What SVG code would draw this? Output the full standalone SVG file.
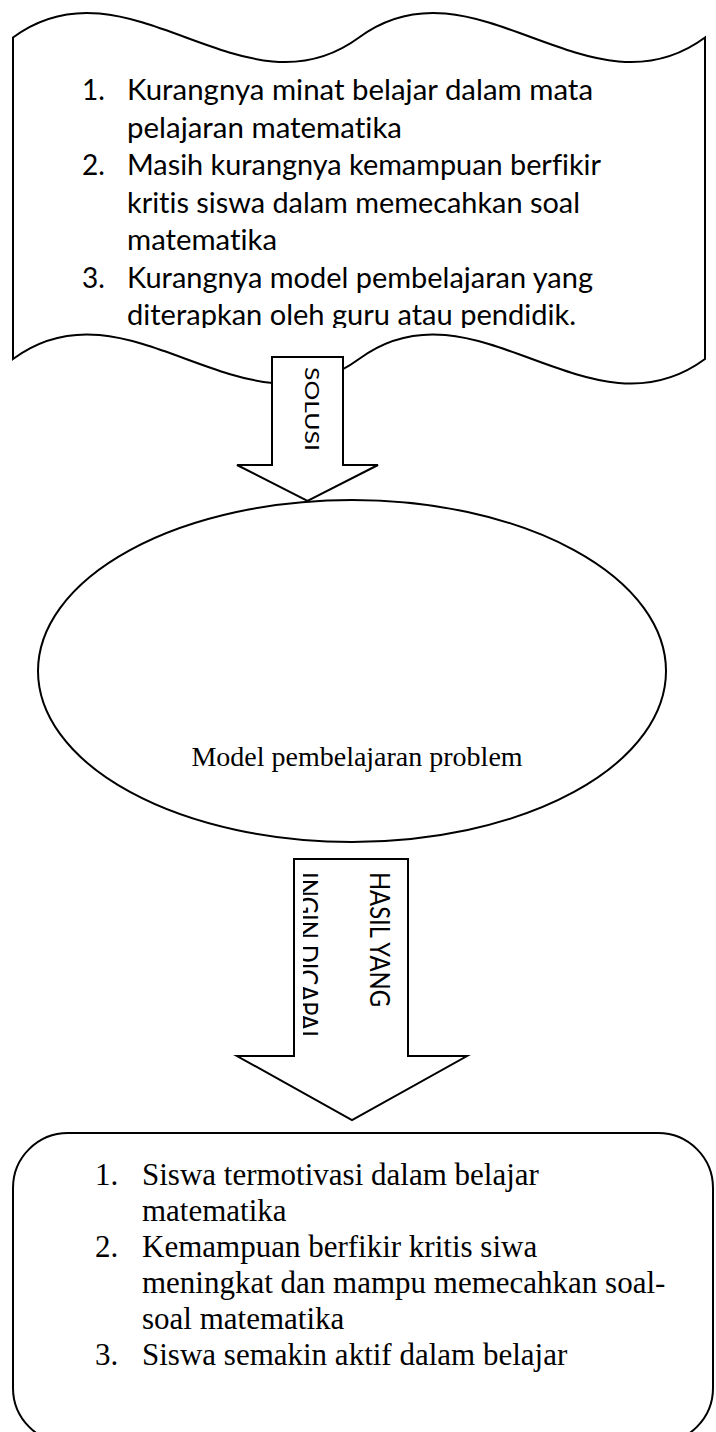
<svg xmlns="http://www.w3.org/2000/svg" width="716" height="1432" viewBox="0 0 716 1432">
<style>
.shape{fill:#fff;stroke:#000;stroke-width:2}
.sans{font-family:Lato,"Open Sans","Liberation Sans",sans-serif;fill:#000;font-variant-ligatures:none}
.serif{font-family:"Liberation Serif","Times New Roman",serif;fill:#000}
.t1{font-size:28px}
.t2{font-size:31px}
</style>
<defs>
<clipPath id="clipTop"><rect x="0" y="0" width="716" height="328"/></clipPath>
<clipPath id="clipHasil"><rect x="303" y="850" width="110" height="210"/></clipPath>
</defs>
<g id="node-problems">
<path class="shape" d="M13,37.5 C128.3,-47.5 243.7,122.5 359,37.5 C474.3,-47.5 589.7,122.5 705,37.5 L705,359 C589.7,444 474.3,274 359,359 C243.7,444 128.3,274 13,359 Z"/>
<g clip-path="url(#clipTop)" class="sans t1">
<text x="82" y="100">1.</text>
<text x="127" y="100" textLength="466" lengthAdjust="spacingAndGlyphs">Kurangnya minat belajar dalam mata</text>
<text x="127" y="137.5" textLength="275" lengthAdjust="spacingAndGlyphs">pelajaran matematika</text>
<text x="82" y="175">2.</text>
<text x="127" y="175" textLength="474" lengthAdjust="spacingAndGlyphs">Masih kurangnya kemampuan berfikir</text>
<text x="127" y="212.5" textLength="453" lengthAdjust="spacingAndGlyphs">kritis siswa dalam memecahkan soal</text>
<text x="127" y="250" textLength="150" lengthAdjust="spacingAndGlyphs">matematika</text>
<text x="82" y="287.5">3.</text>
<text x="127" y="287.5" textLength="466" lengthAdjust="spacingAndGlyphs">Kurangnya model pembelajaran yang</text>
<text x="127" y="325" textLength="449" lengthAdjust="spacingAndGlyphs">diterapkan oleh guru atau pendidik.</text>
</g>
</g>
<g id="node-model">
<ellipse class="shape" cx="352" cy="671" rx="314" ry="171"/>
<text class="serif" font-size="28" x="357" y="766" text-anchor="middle">Model pembelajaran problem</text>
</g>
<g id="node-results">
<rect class="shape" x="13" y="1133" width="700" height="310" rx="55" ry="55"/>
<g class="serif t2">
<text x="95" y="1185">1.</text>
<text x="142" y="1185">Siswa termotivasi dalam belajar</text>
<text x="142" y="1221">matematika</text>
<text x="95" y="1257">2.</text>
<text x="142" y="1257">Kemampuan berfikir kritis siwa</text>
<text x="142" y="1293">meningkat dan mampu memecahkan soal-</text>
<text x="142" y="1329">soal matematika</text>
<text x="95" y="1365">3.</text>
<text x="142" y="1365">Siswa semakin aktif dalam belajar</text>
</g>
</g>
<g id="connectors">
<g id="arrow-solusi">
<path class="shape" d="M272,357 L343,357 L343,465 L378,465 L307.5,501 L237,465 L272,465 Z"/>
<text class="sans" font-size="20" transform="translate(305,367) rotate(90)" textLength="84" lengthAdjust="spacingAndGlyphs">SOLUSI</text>
</g>
<g id="arrow-hasil">
<path class="shape" d="M294,859 L408,859 L408,1056 L467,1056 L352,1120 L237,1056 L294,1056 Z"/>
<text class="sans" font-size="26" transform="translate(370,872) rotate(90)" textLength="135" lengthAdjust="spacingAndGlyphs">HASIL YANG</text>
<g clip-path="url(#clipHasil)">
<text class="sans" font-size="26" transform="translate(298,872) rotate(90)" textLength="165" lengthAdjust="spacingAndGlyphs">INGIN DICAPAI</text>
</g>
</g>
</g>
</svg>
